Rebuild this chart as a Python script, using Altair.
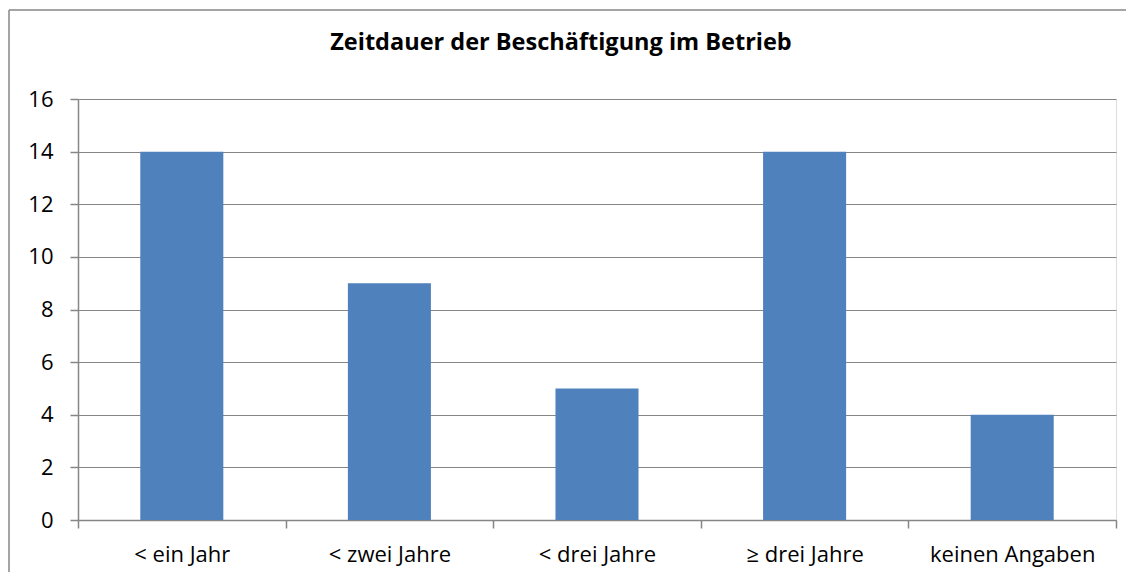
import altair as alt
import pandas as pd

categories = ["< ein Jahr", "< zwei Jahre", "< drei Jahre", "≥ drei Jahre", "keinen Angaben"]
values = [14, 9, 5, 14, 4]
title_text = ["Zeitdauer der Beschäftigung im Betrieb"]

df = pd.DataFrame({"Kategorie": categories, "Anzahl": values})

FONT = "Open Sans"
GRAY = "#868686"

frame = alt.Data(values=[{}])
border_top = alt.Chart(frame).mark_rule(stroke=GRAY, strokeWidth=1.5, clip=False).encode(
    x=alt.value(-69), x2=alt.value(1200), y=alt.value(-89)
)
border_left = alt.Chart(frame).mark_rule(stroke=GRAY, strokeWidth=1.5, clip=False).encode(
    x=alt.value(-69), y=alt.value(-89), y2=alt.value(700)
)

title = alt.Chart(alt.Data(values=[{"t": title_text[0]}])).mark_text(
    font=FONT, fontSize=23.5, fontWeight="bold", color="#000000",
    align="center", baseline="alphabetic"
).encode(
    x=alt.value(483), y=alt.value(-49), text="t:N"
)

bars = alt.Chart(df).mark_bar(color="#4F81BD", width=alt.RelativeBandSize(0.4)).encode(
    x=alt.X("Kategorie:N", sort=categories, title=None,
            scale=alt.Scale(paddingInner=0, paddingOuter=0),
            axis=alt.Axis(labelAngle=0, tickBand="extent", tickSize=8,
                          tickColor=GRAY, domainColor=GRAY, labelFont=FONT,
                          labelFontSize=22, labelColor="#000000", labelPadding=16,
                          domainWidth=1.5, tickWidth=1.5)),
    y=alt.Y("Anzahl:Q", title=None,
            scale=alt.Scale(domain=[0, 16], nice=False),
            axis=alt.Axis(values=list(range(0, 17, 2)), tickSize=8, tickColor=GRAY,
                          domainColor=GRAY, gridColor=GRAY, grid=True,
                          labelFont=FONT, labelFontSize=22, labelColor="#000000",
                          labelPadding=17, domainWidth=1.5, tickWidth=1.5, gridWidth=1.2)),
)

chart = alt.layer(border_top, border_left, bars, title).properties(
    width=1038, height=421,
    padding={"left": 70, "top": 91, "right": 10, "bottom": 52},
    autosize=alt.AutoSizeParams(type="none"),
).configure_view(stroke=None).configure(background="white")

chart.save("out.html", embed_options={"renderer": "svg", "actions": False})
